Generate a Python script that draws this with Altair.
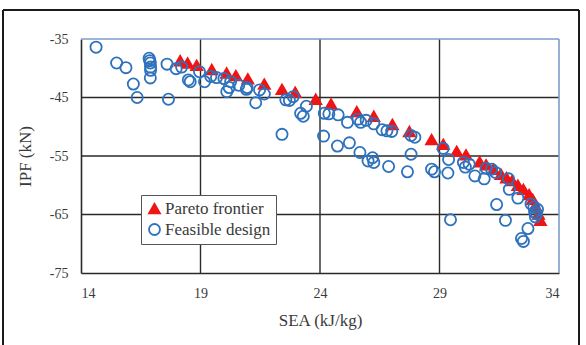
import altair as alt
import pandas as pd

series_names = ["Pareto frontier", "Feasible design"]
x_ticks = [14, 19, 24, 29, 34]
y_ticks = [-75, -65, -55, -45, -35]

pareto_sea = [18.15, 18.46, 18.84, 19.47, 20.09, 20.48, 20.98, 21.67, 22.41, 22.96,
              23.82, 24.46, 25.54, 26.25, 27.03, 27.74, 28.67, 29.16, 29.72, 30.11,
              30.68, 30.95, 31.26, 31.57, 31.80, 32.04, 32.28, 32.51, 32.75, 32.90,
              33.01, 33.14, 33.22]
pareto_ipf = [-38.7, -39.1, -39.5, -40.2, -40.8, -41.25, -41.8, -42.7, -43.6, -44.1,
              -45.3, -46.1, -47.4, -48.2, -49.6, -50.8, -52.2, -53.0, -54.2, -54.8,
              -56.0, -56.5, -57.25, -58.1, -58.7, -59.2, -60.0, -60.7, -61.6, -62.4,
              -63.45, -64.9, -66.0]

feasible_sea = [14.63, 15.49, 15.88, 16.19, 16.35, 16.85, 16.88, 16.90, 16.91, 16.91,
                16.90, 17.60, 17.66, 17.98, 18.21, 18.49, 18.57, 18.96, 19.17, 19.43,
                19.67, 19.98, 20.10, 20.20, 20.26, 20.60, 20.92, 20.95, 21.31, 21.47,
                21.67, 22.41, 22.57, 22.72, 22.88, 23.19, 23.30, 23.43, 24.15, 24.18,
                24.37, 24.76, 24.73, 25.15, 25.23, 25.59, 25.67, 25.70, 25.93, 26.01,
                26.20, 26.25, 26.25, 26.60, 26.80, 26.87, 27.00, 27.66, 27.81, 27.81,
                27.97, 28.67, 28.79, 29.15, 29.35, 29.38, 29.46, 30.00, 30.08, 30.24,
                30.48, 30.87, 30.95, 31.18, 31.34, 31.39, 31.76, 31.89, 31.92, 32.28,
                32.43, 32.51, 32.70, 32.83, 32.95, 32.98, 33.01, 33.06, 33.10]
feasible_ipf = [-36.4, -39.1, -39.9, -42.7, -45.0, -38.3, -38.7, -39.1, -39.8, -40.35,
                -41.65, -39.3, -45.3, -40.07, -39.8, -42.0, -42.3, -40.6, -42.3, -41.4,
                -41.6, -41.76, -44.0, -43.3, -42.3, -42.9, -43.6, -43.3, -45.9, -43.7,
                -44.4, -51.3, -45.4, -45.5, -44.85, -47.7, -48.2, -46.5, -51.6, -47.7,
                -47.8, -47.96, -53.3, -49.25, -52.75, -48.7, -54.4, -49.25, -48.9, -55.85,
                -55.3, -56.1, -49.5, -50.5, -50.7, -56.8, -50.8, -57.7, -54.7, -51.5,
                -51.8, -57.25, -57.7, -53.7, -57.9, -55.6, -65.9, -56.1, -56.9, -56.4,
                -58.4, -58.9, -57.1, -57.25, -57.8, -63.3, -66.0, -58.9, -60.7, -62.2,
                -69.1, -69.6, -67.4, -63.2, -63.7, -64.6, -65.4, -64.9, -64.1]

df = pd.concat([
    pd.DataFrame({"SEA": pareto_sea, "IPF": pareto_ipf, "series": series_names[0]}),
    pd.DataFrame({"SEA": feasible_sea, "IPF": feasible_ipf, "series": series_names[1]}),
], ignore_index=True)

W, H = 478, 234
FONT = "Liberation Serif"
TXT = "#3a3a3a"
GRID = "#2a2a2a"
RED = "#f01414"
BLUE = "#2e72bd"
BORDER_BLUE = "#7d9cc8"

xscale = alt.Scale(domain=[14, 34], nice=False, zero=False)
yscale = alt.Scale(domain=[-75, -35], nice=False, zero=False)
xaxis = alt.Axis(values=x_ticks, title="SEA (kJ/kg)", grid=False, ticks=False,
                 labelPadding=13, titlePadding=12)
yaxis = alt.Axis(values=y_ticks, title="IPF (kN)", grid=False, ticks=False,
                 labelPadding=13, titlePadding=15, labelExpr="'' + datum.value")


def make_legend():
    return alt.Legend(title=None, orient="none", legendX=60, legendY=156,
                      labelFont=FONT, labelFontSize=17, labelColor=TXT)


xgrid = alt.Chart(pd.DataFrame({"SEA": x_ticks[1:-1]})).mark_rule(color=GRID, strokeWidth=1.4).encode(
    x=alt.X("SEA:Q", scale=xscale, axis=xaxis))
ygrid = alt.Chart(pd.DataFrame({"IPF": y_ticks[1:-1]})).mark_rule(color=GRID, strokeWidth=1.4).encode(
    y=alt.Y("IPF:Q", scale=yscale, axis=yaxis))

points = alt.Chart(df).mark_point(filled=True, opacity=1, strokeWidth=1.8, size=125).encode(
    x=alt.X("SEA:Q", scale=xscale, axis=xaxis),
    y=alt.Y("IPF:Q", scale=yscale, axis=yaxis),
    shape=alt.Shape("series:N", scale=alt.Scale(domain=series_names, range=["triangle-up", "circle"]),
                    legend=make_legend()),
    fill=alt.Fill("series:N", scale=alt.Scale(domain=series_names, range=[RED, "transparent"]),
                  legend=make_legend()),
    stroke=alt.Stroke("series:N", scale=alt.Scale(domain=series_names, range=[RED, BLUE]),
                      legend=make_legend()),
    order=alt.Order("order_key:Q"),
).transform_calculate(order_key="datum.series == 'Pareto frontier' ? 0 : 1")

top_border = alt.Chart().mark_rule(color=BORDER_BLUE, strokeWidth=1.6).encode(
    x=alt.value(0), x2=alt.value(W), y=alt.value(0))
right_border = alt.Chart().mark_rule(color=BORDER_BLUE, strokeWidth=1.6).encode(
    x=alt.value(W), y=alt.value(0), y2=alt.value(H))

frame_left = alt.Chart().mark_rule(color="#1a1a1a", strokeWidth=2).encode(
    x=alt.value(-78), y=alt.value(-29), y2=alt.value(310))
frame_top = alt.Chart().mark_rule(color="#1a1a1a", strokeWidth=2).encode(
    x=alt.value(-78), x2=alt.value(498), y=alt.value(-29))
frame_right = alt.Chart().mark_rule(color="#1a1a1a", strokeWidth=2).encode(
    x=alt.value(498), y=alt.value(-29), y2=alt.value(310))

chart = alt.layer(xgrid, ygrid, points, top_border, right_border,
                  frame_left, frame_top, frame_right).properties(
    width=W, height=H,
    background="white",
    autosize=alt.AutoSizeParams(type="none"),
    padding={"left": 81, "top": 39, "right": 27, "bottom": 72},
).configure_view(stroke=None).configure_axis(
    labelFont=FONT, labelFontSize=14, labelColor=TXT,
    titleFont=FONT, titleFontSize=17, titleColor=TXT, titleFontWeight="normal",
    domainColor=GRID, domainWidth=1.6,
).configure_legend(
    fillColor="white", strokeColor="#555555", padding=5,
    labelFont=FONT, labelFontSize=17, labelColor=TXT,
    symbolSize=120, symbolStrokeWidth=1.8, rowPadding=3, labelOffset=2,
)

chart.save("out.html", embed_options={"renderer": "svg", "actions": False})
